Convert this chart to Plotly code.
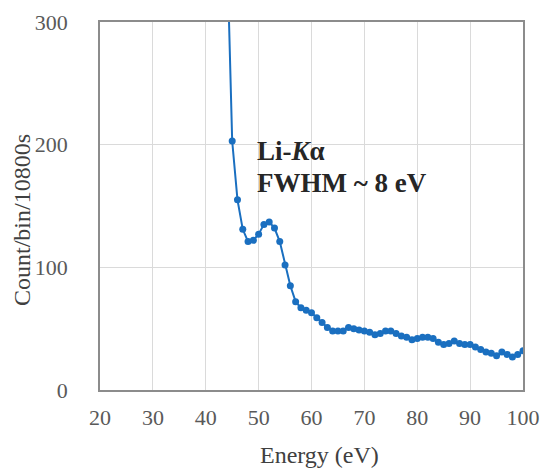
import plotly.graph_objects as go

energy = list(range(44, 101))
counts = [365, 203, 155, 131, 121, 122, 127, 135, 137, 132, 121, 102, 85, 72, 67, 65,
          63, 59, 55, 51, 48, 48, 48, 51, 50, 49, 48, 47, 45, 46, 48, 48, 46, 44, 43,
          41, 42, 43, 43, 42, 39, 37, 38, 40, 38, 37, 37, 35, 33, 31, 30, 28, 31, 29,
          27, 29, 32]
x_ticks = [20, 30, 40, 50, 60, 70, 80, 90, 100]
y_ticks = [0, 100, 200, 300]

font_family = "Liberation Serif, Times New Roman, serif"
axis_color = "#8c8c8c"
grid_color = "#dadada"
tick_color = "#595959"
title_color = "#404040"

fig = go.Figure()
fig.add_trace(go.Scatter(
    x=energy, y=counts, mode="lines+markers",
    line=dict(color="#1a6fc0", width=2),
    marker=dict(color="#1a6fc0", size=7),
    cliponaxis=True, showlegend=False,
))

fig.add_annotation(x=49.3, y=195, xref="x", yref="y", xanchor="left", yanchor="middle",
                   text="<b>Li-<i>K</i>α</b>", showarrow=False,
                   font=dict(family=font_family, size=27, color="#262626"))
fig.add_annotation(x=49.3, y=169, xref="x", yref="y", xanchor="left", yanchor="middle",
                   text="<b>FWHM ~ 8 eV</b>", showarrow=False,
                   font=dict(family=font_family, size=27, color="#262626"))

# axis titles
fig.add_annotation(x=0, y=0.462, xref="paper", yref="paper", xshift=-78,
                   xanchor="center", yanchor="middle", textangle=-90,
                   text="Count/bin/10800s", showarrow=False,
                   font=dict(family=font_family, size=24, color=title_color))
fig.add_annotation(x=0.518, y=0, xref="paper", yref="paper", yshift=-65,
                   xanchor="center", yanchor="middle",
                   text="Energy (eV)", showarrow=False,
                   font=dict(family=font_family, size=24, color=title_color))

fig.update_layout(
    width=541, height=471,
    margin=dict(l=100, r=18, t=22, b=81),
    paper_bgcolor="white", plot_bgcolor="white",
    font=dict(family=font_family, size=22, color=tick_color),
    xaxis=dict(range=[20, 100], tickvals=x_ticks, showgrid=True, gridcolor=grid_color,
               showline=True, linecolor=axis_color, linewidth=1.5, mirror=True,
               zeroline=False, ticks="", ticklabelstandoff=7, automargin=False,
               tickfont=dict(family=font_family, size=22, color=tick_color)),
    yaxis=dict(range=[0, 300], tickvals=y_ticks, showgrid=True, gridcolor=grid_color,
               showline=True, linecolor=axis_color, linewidth=1.5, mirror=True,
               zeroline=False, ticks="", ticklabelstandoff=26, automargin=False,
               tickfont=dict(family=font_family, size=22, color=tick_color)),
)

fig.write_html(
    "out.html",
    config={"displayModeBar": False},
    post_script="document.body.style.margin='0';document.body.style.overflow='hidden';",
)
